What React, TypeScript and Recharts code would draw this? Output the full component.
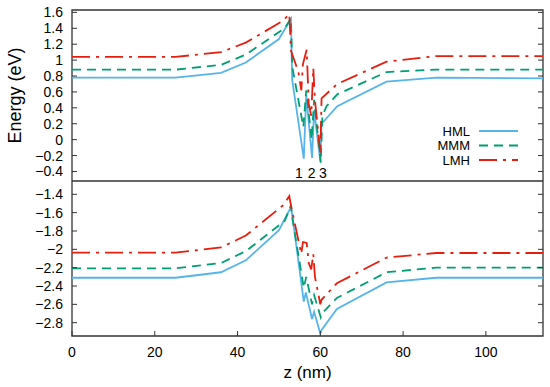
import { LineChart, Line, XAxis, YAxis, ReferenceArea, ReferenceDot, Legend } from 'recharts';

// z (nm), energy (eV) pairs
const hmlTop = [[0, 0.78], [25, 0.78], [36, 0.84], [42, 0.97], [50, 1.265], [52.9, 1.52], [53.2, 0.75], [56, -0.24], [56.6, 0.56], [58, -0.23], [58.5, 0.37], [60, -0.27], [60.3, 0.2], [64.1, 0.42], [76, 0.73], [88, 0.78], [113.8, 0.77]];
const mmmTop = [[0, 0.88], [25, 0.88], [36, 0.94], [42, 1.07], [51.4, 1.4], [52.9, 1.525], [53.2, 0.92], [55.9, 0.16], [56.6, 0.62], [57.9, 0.0], [58.5, 0.5], [60.1, -0.29], [60.5, 0.3], [61.5, 0.42], [64.1, 0.57], [76, 0.85], [88, 0.88], [113.8, 0.88]];
const lmhTop = [[0, 1.04], [25, 1.04], [36, 1.1], [42, 1.22], [51, 1.495], [52.5, 1.58], [52.9, 1.12], [54.7, 0.85], [55.4, 0.62], [55.8, 0.95], [56.7, 1.13], [57.2, 0.45], [57.8, 0.3], [58.3, 0.9], [58.7, 0.5], [60, -0.17], [60.3, 0.52], [64.1, 0.7], [76, 0.98], [88, 1.05], [113.8, 1.05]];

const hmlBot = [[0, -2.31], [25, -2.31], [36, -2.25], [42, -2.12], [50, -1.79], [52.9, -1.54], [53.2, -1.62], [56, -2.57], [56.5, -2.47], [58, -2.76], [58.5, -2.68], [60, -2.92], [60.3, -2.88], [64, -2.65], [76, -2.36], [88, -2.31], [113.8, -2.31]];
const mmmBot = [[0, -2.207], [25, -2.207], [36, -2.15], [42, -2.02], [51.4, -1.69], [52.9, -1.52], [53.2, -1.65], [56, -2.42], [56.6, -2.3], [58, -2.6], [58.5, -2.5], [60.1, -2.74], [60.4, -2.7], [64, -2.53], [76, -2.25], [88, -2.2], [113.8, -2.2]];
const lmhBot = [[0, -2.037], [25, -2.037], [36, -1.98], [42, -1.85], [51, -1.52], [52.5, -1.42], [52.9, -1.52], [55.4, -2.05], [55.8, -1.92], [56.7, -1.93], [57.2, -2.15], [57.8, -2.22], [58.3, -2.05], [58.7, -2.3], [60, -2.6], [60.3, -2.55], [64, -2.37], [76, -2.09], [88, -2.04], [113.8, -2.04]];

const zTicks = [0, 20, 40, 60, 80, 100];
const topTicks = [1.6, 1.4, 1.2, 1, 0.8, 0.6, 0.4, 0.2, 0, -0.2, -0.4];
const botTicks = [-1.4, -1.6, -1.8, -2, -2.2, -2.4, -2.6, -2.8];
const wellLabels = [{ z: 54.8, name: '1' }, { z: 57.9, name: '2' }, { z: 60.6, name: '3' }];

const zDomain = [0, 113.8];
const topDomain = [-0.52, 1.63];
const botDomain = [-2.945, -1.255];

const series = [
    { name: 'HML', color: '#56b4e9', dash: undefined, top: hmlTop, bot: hmlBot },
    { name: 'MMM', color: '#009e73', dash: '9 6', top: mmmTop, bot: mmmBot },
    { name: 'LMH', color: '#e51e10', dash: '18 6 3 6', top: lmhTop, bot: lmhBot },
];

const FONT = '"Liberation Sans", Arial, sans-serif';
const FRAME = '#333';
const toPts = (arr: number[][]) => arr.map(([z, e]) => ({ z, e }));
const fmt = (v: number) => (v < 0 ? '\u2212' + String(Math.abs(v)) : String(v));

function LeftTick({ x, y, payload }: any) {
    return (
        <g>
            <line x1={x} x2={x + 5} y1={y} y2={y} stroke={FRAME} />
            <text x={x - 9} y={y} textAnchor="end" dominantBaseline="central" fontSize={14} fontFamily={FONT} fill="#000">
                {fmt(payload.value)}
            </text>
        </g>
    );
}

function RightTick({ x, y }: any) {
    return <line x1={x} x2={x - 5} y1={y} y2={y} stroke={FRAME} />;
}

function BottomTick({ x, y, payload }: any) {
    return (
        <g>
            <line x1={x} x2={x} y1={y} y2={y - 5} stroke={FRAME} />
            <text x={x} y={y + 16} textAnchor="middle" dominantBaseline="central" fontSize={14} fontFamily={FONT} fill="#000">
                {payload.value}
            </text>
        </g>
    );
}

function LegendBox() {
    return (
        <svg width={130} height={50} style={{ display: 'block' }}>
            {series.map((s, i) => (
                <g key={s.name}>
                    <text x={70} y={9 + i * 14.5} textAnchor="end" dominantBaseline="central" fontSize={13} fontFamily={FONT} fill="#000">
                        {s.name}
                    </text>
                    <line x1={79} x2={118} y1={9 + i * 14.5} y2={9 + i * 14.5} stroke={s.color} strokeWidth={1.8} strokeDasharray={s.dash} />
                </g>
            ))}
        </svg>
    );
}

export default function App() {
    return (
        <div style={{ position: 'absolute', left: 0, top: 0, width: 550, height: 387, background: '#fff' }}>
            <LineChart width={550} height={181} margin={{ top: 10, right: 0, bottom: 0, left: 0 }}>
                <XAxis type="number" dataKey="z" domain={zDomain} allowDataOverflow hide />
                <YAxis
                    yAxisId="l"
                    type="number"
                    domain={topDomain}
                    ticks={topTicks}
                    interval={0}
                    allowDataOverflow
                    width={72}
                    tickSize={0}
                    tickMargin={0}
                    axisLine={false}
                    tickLine={false}
                    tick={<LeftTick />}
                    label={({ viewBox }: any) => {
                        const cx = viewBox.x + 15;
                        const cy = viewBox.y + viewBox.height / 2;
                        return (
                            <text x={cx} y={cy} transform={`rotate(-90 ${cx} ${cy})`} textAnchor="middle" dominantBaseline="central" fontSize={18} fontFamily={FONT} fill="#000">
                                Energy (eV)
                            </text>
                        );
                    }}
                />
                <YAxis yAxisId="r" orientation="right" type="number" domain={topDomain} ticks={topTicks} interval={0} allowDataOverflow width={7} tickSize={0} tickMargin={0} axisLine={false} tickLine={false} tick={<RightTick />} />
                <ReferenceArea yAxisId="l" x1={zDomain[0]} x2={zDomain[1]} y1={topDomain[0]} y2={topDomain[1]} fill="none" stroke={FRAME} strokeWidth={1.3} />
                {series.map((s) => (
                    <Line key={s.name} yAxisId="l" name={s.name} data={toPts(s.top)} dataKey="e" type="linear" stroke={s.color} strokeWidth={1.8} strokeDasharray={s.dash} dot={false} isAnimationActive={false} />
                ))}
                {wellLabels.map((w) => (
                    <ReferenceDot key={w.name} yAxisId="l" x={w.z} y={-0.42} r={0} fill="none" stroke="none" label={{ value: w.name, position: 'center', fontSize: 14, fontFamily: FONT, fill: '#000' }} />
                ))}
                <Legend layout="horizontal" verticalAlign="middle" align="center" content={() => <LegendBox />} wrapperStyle={{ left: 400, top: 122, width: 130, height: 50 }} />
            </LineChart>
            <LineChart width={550} height={206} margin={{ top: 0, right: 0, bottom: 0, left: 0 }}>
                <XAxis
                    type="number"
                    dataKey="z"
                    domain={zDomain}
                    ticks={zTicks}
                    interval={0}
                    allowDataOverflow
                    height={51}
                    tickSize={0}
                    tickMargin={0}
                    axisLine={false}
                    tickLine={false}
                    tick={<BottomTick />}
                    label={{ value: 'z (nm)', position: 'insideBottom', offset: 9, fontSize: 17, fontFamily: FONT, fill: '#000' }}
                />
                <YAxis yAxisId="l" type="number" domain={botDomain} ticks={botTicks} interval={0} allowDataOverflow width={72} tickSize={0} tickMargin={0} axisLine={false} tickLine={false} tick={<LeftTick />} />
                <YAxis yAxisId="r" orientation="right" type="number" domain={botDomain} ticks={botTicks} interval={0} allowDataOverflow width={7} tickSize={0} tickMargin={0} axisLine={false} tickLine={false} tick={<RightTick />} />
                <ReferenceArea yAxisId="l" x1={zDomain[0]} x2={zDomain[1]} y1={botDomain[0]} y2={botDomain[1]} fill="none" stroke={FRAME} strokeWidth={1.3} />
                {series.map((s) => (
                    <Line key={s.name} yAxisId="l" name={s.name} data={toPts(s.bot)} dataKey="e" type="linear" stroke={s.color} strokeWidth={1.8} strokeDasharray={s.dash} dot={false} isAnimationActive={false} />
                ))}
            </LineChart>
        </div>
    );
}
